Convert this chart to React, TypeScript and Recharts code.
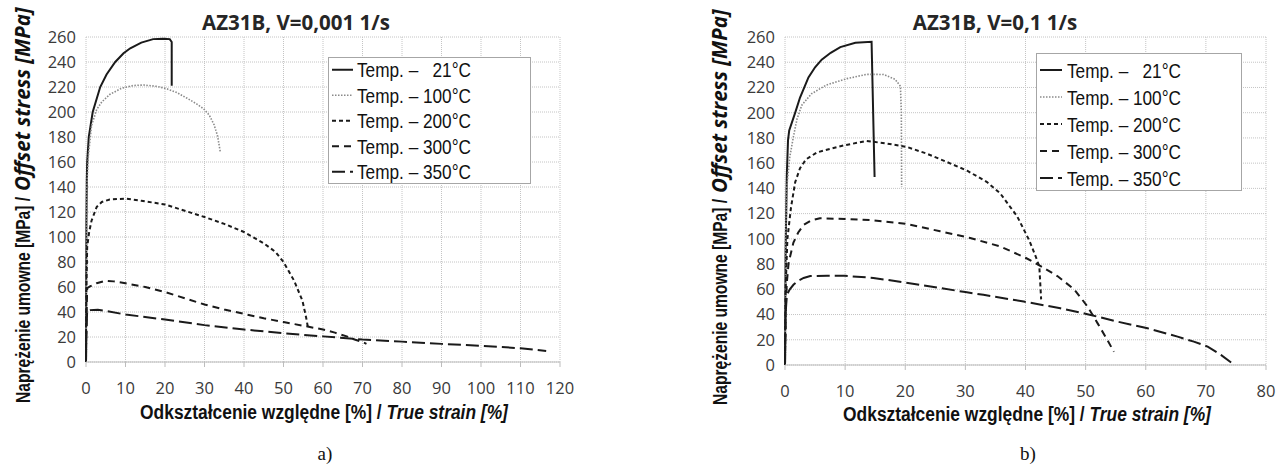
import { LineChart, Line, XAxis, YAxis, CartesianGrid, Legend } from 'recharts';

type Pt = [number, number];

const stressTicks = [0, 20, 40, 60, 80, 100, 120, 140, 160, 180, 200, 220, 240, 260];
const strainTicksA = [0, 10, 20, 30, 40, 50, 60, 70, 80, 90, 100, 110, 120];
const strainTicksB = [0, 10, 20, 30, 40, 50, 60, 70, 80];
// padded with no-break spaces so the 21°C entry lines up like the original
const tempLabels = ['\u00A0\u00A021°C', '100°C', '200°C', '300°C', '350°C'];

// a) V=0,001 1/s  -> [strain %, stress MPa]
const slow21: Pt[] = [[0, 0], [0.05, 60], [0.1, 110], [0.2, 145], [0.3, 160], [0.7, 180], [1.7, 200], [3.6, 220], [5.2, 230], [7.4, 240], [9.5, 247], [11.2, 251], [14, 255.5], [17, 258.3], [19.5, 258.6], [21.2, 258.3], [21.7, 256], [21.7, 221]];
const slow100: Pt[] = [[0, 0], [0.1, 100], [0.2, 140], [0.6, 165], [1.4, 189], [2.7, 202], [4, 208], [6, 214], [9, 219], [12, 221.2], [14.6, 221.6], [18, 220.5], [20.5, 218.5], [23, 215.5], [25.6, 211], [28, 206.5], [29.8, 202.5], [31.2, 197.5], [32.4, 190], [33.3, 181], [34, 168]];
const slow200: Pt[] = [[0, 0], [0.1, 60], [0.3, 92], [0.8, 104], [1.4, 113], [2.7, 124], [4, 128], [6, 130], [10, 130.7], [14, 129], [20, 126], [25, 121], [30, 116], [35, 110.5], [40, 104], [45, 95], [48, 88], [50, 80], [52.7, 65], [54.8, 49], [55.7, 36], [56.2, 27.5]];
const slow300: Pt[] = [[0, 0], [0.1, 30], [0.3, 59], [1, 60.5], [2.7, 63], [5, 65], [7, 64.5], [10, 63], [15, 60], [20, 56], [25, 51], [30, 46], [35, 42], [40, 38.5], [45, 35], [50, 32], [55, 29], [60, 26], [63, 23.5], [66, 20.5], [68, 18], [70, 16], [71, 14.5]];
const slow350: Pt[] = [[0, 0], [0.1, 25], [0.3, 41], [1, 41.5], [3, 41.8], [5, 40.8], [10, 38], [20, 34], [30, 29.5], [40, 26], [50, 23], [60, 20.5], [70, 18], [80, 16.3], [90, 14.5], [100, 13], [110, 11], [116.5, 8.8]];

// b) V=0,1 1/s
const fast21: Pt[] = [[0, 0], [0.1, 90], [0.3, 150], [0.5, 178], [0.7, 186], [1.7, 200], [2.5, 212], [3.9, 228], [5, 236], [6.1, 242], [7.6, 247.5], [9.2, 252], [11.7, 255.5], [14.4, 256.2], [14.9, 149]];
const fast100: Pt[] = [[0, 0], [0.1, 100], [0.3, 141], [0.8, 165], [1.4, 181], [2, 195], [2.8, 206], [4.4, 215], [6.9, 222], [10.3, 227], [13.6, 230.4], [16.4, 230.3], [18.3, 226.5], [19.2, 221], [19.35, 200], [19.4, 141]];
const fast200: Pt[] = [[0, 0], [0.1, 60], [0.4, 100], [1, 125], [1.7, 145], [2.5, 156], [3.5, 163], [5.3, 168.5], [9.7, 174], [13.6, 177.6], [17, 175.5], [20.3, 172.8], [23.6, 167.5], [26.9, 161], [30.3, 154], [33.6, 145], [35.8, 136], [37.5, 125], [38.6, 118], [40.6, 99], [41.7, 86], [42.3, 78], [42.6, 52]];
const fast300: Pt[] = [[0, 0], [0.1, 40], [0.3, 65], [0.6, 81], [1.4, 97], [2.2, 105], [3.1, 111], [4.3, 114.5], [5.8, 116.3], [10, 115.8], [14.7, 114.7], [20, 112], [25.8, 106], [30.8, 100.7], [35.8, 94], [40, 85], [42.3, 79], [45.3, 70.5], [48.1, 60], [50.3, 46.5], [52, 33], [53.6, 20], [54.7, 10.5]];
const fast350: Pt[] = [[0, 0], [0.1, 40], [0.3, 55.5], [0.8, 60], [1.4, 63.6], [2.2, 66.8], [3.1, 69], [4.2, 70.5], [7, 70.8], [10, 70.7], [14.7, 69], [20, 65.4], [25.8, 61], [30, 57.8], [33, 55.6], [39.7, 50.3], [45.8, 45], [50.3, 40.3], [55.3, 34.4], [60.3, 29.1], [65.3, 22.5], [68, 18.5], [70.3, 14.6], [72.5, 8], [74.2, 2]];

const lineStyles = [
  { stroke: '#1a1a1a', width: 2, dash: undefined as string | undefined },
  { stroke: '#8a8a8a', width: 1.6, dash: '1.5 1.5' },
  { stroke: '#1a1a1a', width: 2, dash: '4 3' },
  { stroke: '#1a1a1a', width: 2, dash: '7 5' },
  { stroke: '#1a1a1a', width: 2, dash: '13 5' },
];

const SANS = "'Liberation Sans', Arial, sans-serif";
const TICK = { fontSize: 16.5, fontFamily: 'Open Sans', fill: '#3a3a3a' };

const toRows = (pts: Pt[]) => pts.map(([x, y]) => ({ x, y }));

interface Box { left: number; top: number; w: number; h: number; rowTop: number; rowH: number; lineX2: number; textX: number }

function legendContent(box: Box) {
  return () => (
    <svg width={box.w} height={box.h} style={{ display: 'block' }}>
      <rect x={0.5} y={0.5} width={box.w - 1} height={box.h - 1} fill="#fff" stroke="#a6a6a6" />
      {tempLabels.map((t, i) => {
        const cy = box.rowTop + i * box.rowH;
        const st = lineStyles[i];
        return (
          <g key={t}>
            <line x1={4} x2={box.lineX2} y1={cy} y2={cy} stroke={st.stroke} strokeWidth={st.width} strokeDasharray={st.dash} />
            <text transform={`translate(${box.textX},${cy}) scale(0.82,1)`} dy="0.36em" fontFamily={SANS} fontSize={21} fill="#111">
              {`Temp. – ${t}`}
            </text>
          </g>
        );
      })}
    </svg>
  );
}

interface PanelProps {
  left: number;
  width: number;
  margin: { top: number; right: number; bottom: number; left: number };
  xMax: number;
  xTicks: number[];
  curves: Pt[][];
  box: Box;
}

function Panel({ left, width, margin, xMax, xTicks, curves, box }: PanelProps) {
  return (
    <div style={{ position: 'absolute', left, top: 0 }}>
      <LineChart width={width} height={466} margin={margin}>
        <CartesianGrid stroke="#c4c4c4" strokeDasharray="1 1" />
        <XAxis type="number" dataKey="x" domain={[0, xMax]} ticks={xTicks} interval={0}
          tick={TICK} tickSize={5} tickMargin={15} axisLine={{ stroke: '#bdbdbd' }} tickLine={{ stroke: '#bdbdbd' }} />
        <YAxis type="number" domain={[0, 260]} ticks={stressTicks} interval={0} width={50}
          tick={TICK} tickSize={0} tickMargin={10} axisLine={false} tickLine={false} />
        {curves.map((c, i) => (
          <Line key={tempLabels[i]} name={`Temp. – ${tempLabels[i]}`} data={toRows(c)} dataKey="y" type="linear"
            stroke={lineStyles[i].stroke} strokeWidth={lineStyles[i].width} strokeDasharray={lineStyles[i].dash}
            dot={false} activeDot={false} isAnimationActive={false} />
        ))}
        <Legend layout="vertical" align="center" verticalAlign="middle" content={legendContent(box)}
          wrapperStyle={{ left: box.left, top: box.top, width: box.w, height: box.h }} />
      </LineChart>
    </div>
  );
}

function YTitle({ x, bottom }: { x: number; bottom: number }) {
  return (
    <>
      <text transform={`translate(${x},${bottom}) rotate(-90) scale(0.8,1)`} fontFamily={SANS} fontWeight={700} fontSize={19.5} fill="#111">
        Naprężenie umowne [MPa] /
      </text>
      <text transform={`translate(${x},${bottom - 212}) rotate(-90)`} fontFamily="Open Sans" fontStyle="italic" fontWeight={700} fontSize={20.5} fill="#111">
        Offset stress [MPa]
      </text>
    </>
  );
}

function XTitle({ cx, y }: { cx: number; y: number }) {
  return (
    <text transform={`translate(${cx},${y}) scale(0.87,1)`} textAnchor="middle" fontFamily={SANS} fontWeight={700} fontSize={20} fill="#111">
      {'Odkształcenie względne [%] / '}<tspan fontStyle="italic">True strain [%]</tspan>
    </text>
  );
}

export default function App() {
  return (
    <div style={{ position: 'fixed', left: 0, top: 0, width: 1286, height: 466, background: '#fff', overflow: 'hidden' }}>
      <Panel left={0} width={600} margin={{ top: 37, right: 40, bottom: 74, left: 36 }}
        xMax={120} xTicks={strainTicksA} curves={[slow21, slow100, slow200, slow300, slow350]}
        box={{ left: 328, top: 57, w: 203, h: 127, rowTop: 12.75, rowH: 25.5, lineX2: 25, textX: 29 }} />
      <Panel left={640} width={646} margin={{ top: 37, right: 20, bottom: 71, left: 95 }}
        xMax={80} xTicks={strainTicksB} curves={[fast21, fast100, fast200, fast300, fast350]}
        box={{ left: 396, top: 53, w: 206, h: 138, rowTop: 17, rowH: 27, lineX2: 26, textX: 31 }} />
      <svg width={1286} height={466} style={{ position: 'absolute', left: 0, top: 0, pointerEvents: 'none' }}>
        <text x={296} y={30} textAnchor="middle" fontFamily="Open Sans" fontWeight={700} fontSize={20.5} fill="#262626">AZ31B, V=0,001 1/s</text>
        <text x={995} y={30} textAnchor="middle" fontFamily="Open Sans" fontWeight={700} fontSize={20.5} fill="#262626">AZ31B, V=0,1 1/s</text>

        <YTitle x={30} bottom={403} />
        <YTitle x={727} bottom={405} />

        <XTitle cx={324} y={419} />
        <XTitle cx={1027} y={421} />

        <text x={325} y={460} textAnchor="middle" fontFamily="'Liberation Serif', serif" fontSize={19} fill="#111">a)</text>
        <text x={1028} y={460} textAnchor="middle" fontFamily="'Liberation Serif', serif" fontSize={19} fill="#111">b)</text>
      </svg>
    </div>
  );
}
